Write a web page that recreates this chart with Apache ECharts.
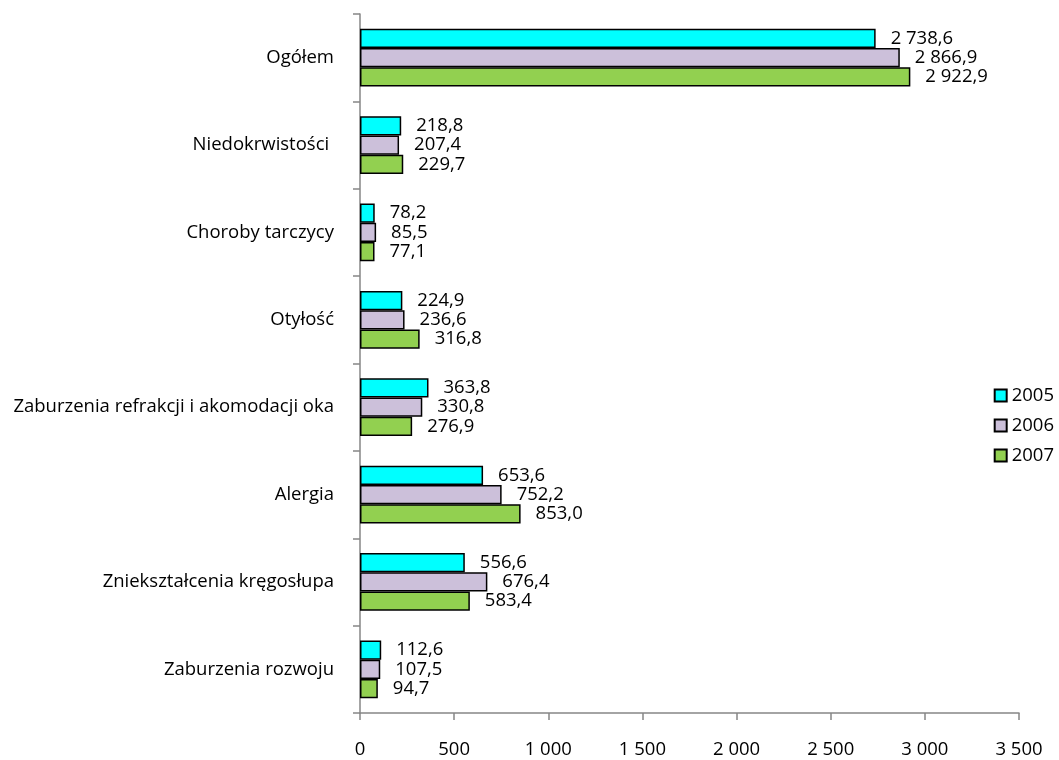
<!DOCTYPE html>
<html>
<head>
<meta charset="utf-8">
<script src="https://cdn.jsdelivr.net/npm/echarts@6/dist/echarts.min.js"></script>
<style>
  html, body { margin: 0; padding: 0; background: #fff; }
  #chart { width: 1059px; height: 760px; }
</style>
</head>
<body>
<div id="chart"></div>
<script>
// kategorie od góry
var categories = ['Ogółem', 'Niedokrwistości ', 'Choroby tarczycy', 'Otyłość',
    'Zaburzenia refrakcji i akomodacji oka', 'Alergia', 'Zniekształcenia kręgosłupa', 'Zaburzenia rozwoju'];
var years = ['2005', '2006', '2007'];
var values2005 = [2738.6, 218.8, 78.2, 224.9, 363.8, 653.6, 556.6, 112.6];
var values2006 = [2866.9, 207.4, 85.5, 236.6, 330.8, 752.2, 676.4, 107.5];
var values2007 = [2922.9, 229.7, 77.1, 316.8, 276.9, 853.0, 583.4, 94.7];
var colors = ['#00FFFF', '#CCC0DA', '#92D050'];

var font = '"Open Sans", sans-serif';

// 2 738,6
function fmt(v, dec) {
    var s = v.toFixed(dec);
    var parts = s.split('.');
    var intPart = parts[0].replace(/\B(?=(\d{3})+(?!\d))/g, ' ');
    return parts.length > 1 ? intPart + ',' + parts[1] : intPart;
}

function makeSeries(name, data, color) {
    return {
        name: name,
        type: 'bar',
        data: data,
        barGap: '0%',
        barCategoryGap: '34%',
        itemStyle: { color: color, borderColor: '#000', borderWidth: 1.5 },
        label: {
            show: true,
            position: 'right',
            distance: 15,
            color: '#000',
            fontFamily: font,
            fontSize: 18.5,
            formatter: function (p) { return fmt(p.value, 1); }
        }
    };
}

var myChart = echarts.init(document.getElementById('chart'));
myChart.setOption({
    animation: false,
    color: colors,
    grid: { left: 360, right: 40, top: 14, bottom: 47, containLabel: false },
    legend: {
        orient: 'vertical',
        right: 0,
        top: 381,
        icon: 'rect',
        itemWidth: 12,
        itemHeight: 12,
        itemGap: 11,
        textStyle: { fontFamily: font, fontSize: 18.5, color: '#000' },
        data: years
    },
    xAxis: {
        type: 'value',
        min: 0,
        max: 3500,
        interval: 500,
        splitLine: { show: false },
        axisLine: { show: true, lineStyle: { color: '#868686', width: 1.5 } },
        axisTick: { show: true, length: 7, lineStyle: { color: '#868686', width: 1.5 } },
        axisLabel: {
            margin: 27,
            color: '#000',
            fontFamily: font,
            fontSize: 18.5,
            formatter: function (v) { return fmt(v, 0); }
        }
    },
    yAxis: {
        type: 'category',
        inverse: true,
        data: categories,
        axisLine: { show: true, lineStyle: { color: '#868686', width: 1.5 } },
        axisTick: { show: true, length: 7, lineStyle: { color: '#868686', width: 1.5 } },
        axisLabel: {
            margin: 26,
            color: '#000',
            fontFamily: font,
            fontSize: 18.5
        }
    },
    series: [
        makeSeries(years[0], values2005, colors[0]),
        makeSeries(years[1], values2006, colors[1]),
        makeSeries(years[2], values2007, colors[2])
    ]
});
</script>
</body>
</html>
